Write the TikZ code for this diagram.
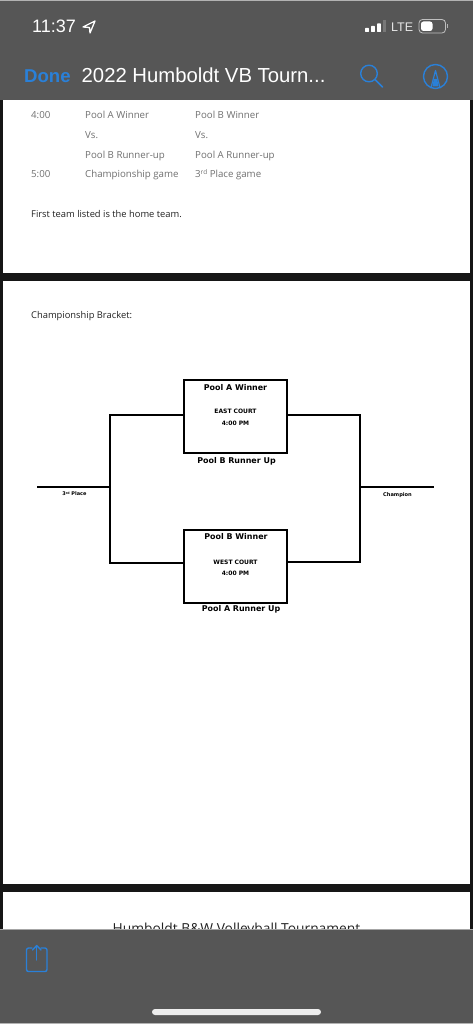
\documentclass[tikz,border=0pt]{standalone}
\usepackage{fontspec}
\setmainfont{Open Sans}
\newfontfamily\uifont{Liberation Sans}
\newfontfamily\brfont{DejaVu Sans}
\definecolor{barc}{HTML}{565656}
\definecolor{blueui}{HTML}{2A80D8}
\definecolor{bodyc}{HTML}{707070}
\definecolor{darkc}{HTML}{222222}
\definecolor{gapc}{HTML}{161616}
\tikzset{
  x=1pt,y=-1pt,
  txt/.style={inner sep=0pt,anchor=base west,font=\fontsize{9.7}{12}\selectfont,text=bodyc},
  txtd/.style={txt,text=darkc,font=\fontsize{9.35}{12}\selectfont},
  ui/.style={inner sep=0pt,anchor=base west,text=white},
  boxn/.style={draw=black,line width=2pt,fill=white,minimum width=103pt,minimum height=73pt,inner sep=0pt},
  brline/.style={draw=black,line width=1.9pt},
  brb/.style={inner sep=0pt,anchor=base,text=black,font=\brfont\bfseries\fontsize{7.95}{10}\selectfont},
  brs/.style={inner sep=0pt,anchor=base,text=black,font=\brfont\bfseries\fontsize{6}{7}\selectfont},
  icon/.style={draw=blueui,line width=1.4pt,line cap=round,line join=round}
}
\begin{document}
\begin{tikzpicture}
\useasboundingbox (0,0) rectangle (473,1024);
% page background
\fill[gapc] (0,0) rectangle (473,1024);
\fill[white] (3,100) rectangle (470,273);
\fill[white] (3,281) rectangle (470,884);
\fill[white] (3,892) rectangle (470,940);
% schedule
\node[txt] (t1) at (31,118.5) {4:00};
\node[txt] (a1) at (85,118.5) {Pool A Winner};
\node[txt] (b1) at (195,118.5) {Pool B Winner};
\node[txt] (a2) at (85,138.5) {Vs.};
\node[txt] (b2) at (195,138.5) {Vs.};
\node[txt] (a3) at (85,158.5) {Pool B Runner-up};
\node[txt] (b3) at (195,158.5) {Pool A Runner-up};
\node[txt] (t2) at (31,178) {5:00};
\node[txt] (a4) at (85,178) {Championship game};
\node[txt] (b4) at (195,178) {3\raisebox{3.2pt}{\fontsize{6.5}{7}\selectfont rd} Place game};
\node[txtd] (note) at (31,217.5) {First team listed is the home team.};
\node[txtd] (head) at (31,318) {Championship Bracket:};
% bracket
\node[boxn] (east) at (235.5,416.5) {};
\node[boxn] (west) at (235.5,566.5) {};
\coordinate (ltop) at (110,415);
\coordinate (lbot) at (110,563);
\coordinate (lmid) at (110,487);
\coordinate (lend) at (37,487);
\coordinate (rtop) at (360,415);
\coordinate (rbot) at (360,562);
\coordinate (rmid) at (360,487);
\coordinate (rend) at (434,487);
\draw[brline] (east.west |- ltop) -- (ltop) -- (lbot) -- (west.west |- lbot);
\draw[brline] (east.east |- rtop) -- (rtop) -- (rbot) -- (west.east |- rbot);
\draw[brline] (lend) -- (lmid);
\draw[brline] (rmid) -- (rend);
\node[brb] (e1) at (235.5,390.5) {Pool A Winner};
\node[brs] (e2) at (235.5,413.5) {EAST COURT};
\node[brs] (e3) at (235.5,425) {4:00 PM};
\node[brb] (e4) at (236.5,463.5) {Pool B Runner Up};
\node[brb] (w1) at (236,539.5) {Pool B Winner};
\node[brs] (w2) at (235.5,564) {WEST COURT};
\node[brs] (w3) at (235.5,575.5) {4:00 PM};
\node[brb] (w4) at (241,611.5) {Pool A Runner Up};
\node[brs,font=\brfont\bfseries\fontsize{5}{6}\selectfont] (third) at (74.5,495.5) {3\raisebox{1.5pt}{\fontsize{3.2}{4}\selectfont rd} Place};
\node[brs,font=\brfont\bfseries\fontsize{5.1}{6}\selectfont] (champ) at (397.5,496) {Champion};
% next page title
\node[inner sep=0pt,anchor=base,text=darkc,font=\fontsize{13.8}{16}\selectfont] (next) at (236.5,933) {Humboldt B\&W Volleyball Tournament};
% top bar
\fill[barc] (0,0) rectangle (473,100);
\fill[gray!60] (0,0) rectangle (473,1);
\node[ui,font=\uifont\fontsize{18}{20}\selectfont] (time) at (32,32.5) {11:37};
\draw[white,line width=1.3pt,line join=round] (95,21) -- (83,27) -- (89.5,27.5) -- (90,33) -- cycle;
\foreach \xx/\yy in {365/28,371/26,377/23.5}{\fill[white,rounded corners=.5pt] (\xx,\yy) rectangle (\xx+3.8,32);}
\fill[white!47!black] (383,20) rectangle (385.5,32);
\node[ui,font=\uifont\fontsize{12.5}{15}\selectfont,text=white!90!black] (lte) at (391,32) {LTE};
\draw[white!75!black,line width=.8pt,rounded corners=3.5pt] (419,19.5) rectangle (445.5,33);
\fill[white,rounded corners=2.5pt] (421,21.5) rectangle (432.5,31);
\fill[white!70!black] (447,24.5) rectangle (448,28);
\node[ui,font=\uifont\bfseries\fontsize{18.6}{22}\selectfont,text=blueui] (done) at (24,83) {Done};
\node[ui,font=\uifont\fontsize{20.3}{24}\selectfont] (title) at (81.5,83) {2022 Humboldt VB Tourn...};
\draw[icon] (369,73.5) circle (8.3);
\draw[icon,line width=1.7pt] (375,79.5) -- (382.5,87);
\draw[icon] (435.5,76.5) circle (12);
\draw[icon,line width=1.2pt] (431.2,87) -- (435.5,70.5) -- (439.8,87);
\fill[blueui] (433.8,79) -- (437.2,79) -- (438.5,86.5) -- (432.5,86.5) -- cycle;
% bottom bar
\fill[barc] (0,929) rectangle (473,1024);
\fill[gray!70] (0,929) rectangle (473,929.6);
\draw[icon,rounded corners=2pt] (32,948) -- (26.5,948) -- (26.5,971.5) -- (47,971.5) -- (47,948) -- (41,948);
\draw[icon] (36.7,960) -- (36.7,946);
\draw[icon] (32.5,950) -- (36.7,945.5) -- (41,950);
\fill[white!93!black,rounded corners=3pt] (152,1009) rectangle (321,1015);
\fill[gray!60] (0,1023) rectangle (473,1024);
\end{tikzpicture}
\end{document}
